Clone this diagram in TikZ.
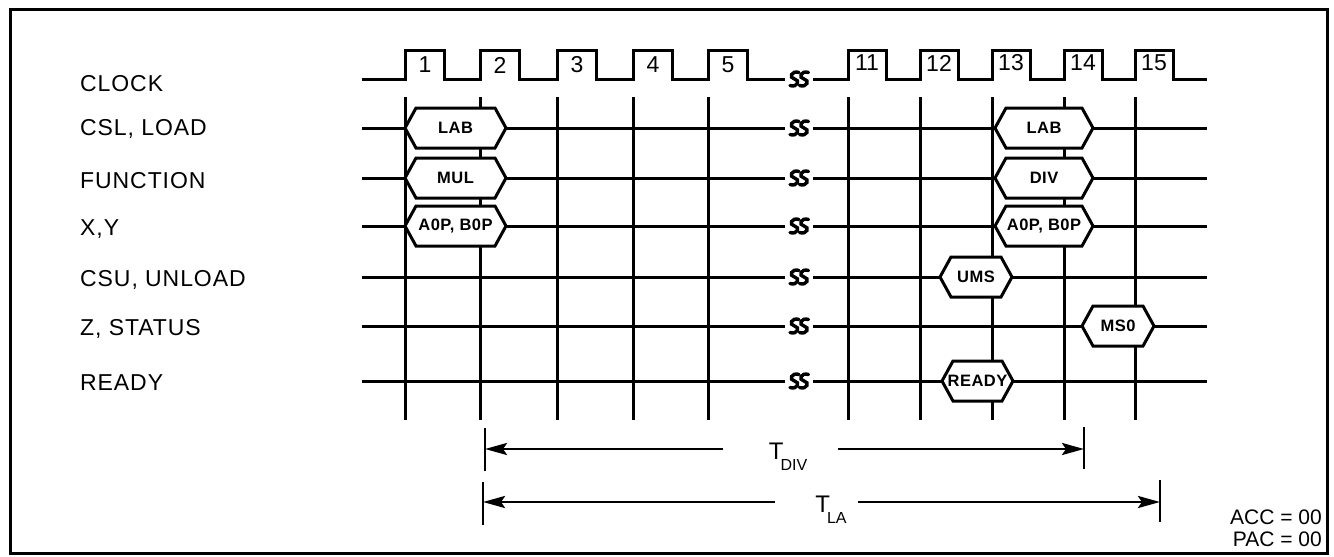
\documentclass[tikz,border=0pt]{standalone}
\usepackage{fontspec}
\setmainfont{Liberation Sans}
\usetikzlibrary{arrows.meta}
\newcommand\hexsig[5]{%
  \filldraw[hexline] (#2,#4) -- ({#2+11},{#4-20}) -- ({#3-11},{#4-20}) -- (#3,#4)
     -- ({#3-11},{#4+20}) -- ({#2+11},{#4+20}) -- cycle;
  \node[hextext] (#1) at ({(#2+#3)/2},#4) {#5};}
\newcommand\brkmark[2]{%
  \foreach \bx in {-4.5,5} {
    \draw[brk] ({#1+\bx+4.5},{#2-6.5}) .. controls ({#1+\bx-3},{#2-9}) and ({#1+\bx-6},{#2-1}) .. ({#1+\bx},{#2})
      .. controls ({#1+\bx+6},{#2+1}) and ({#1+\bx+3},{#2+9}) .. ({#1+\bx-4.5},{#2+6.5});
  }}
\begin{document}
\begin{tikzpicture}[x=1pt,y=-1pt,
  sig/.style={line width=3pt},
  hexline/.style={line width=3pt, fill=white, line join=miter},
  lbl/.style={anchor=west, font=\fontsize{23}{23}\selectfont\addfontfeature{LetterSpace=4}, inner sep=0pt},
  num/.style={font=\fontsize{23}{23}\selectfont, inner sep=0pt},
  hextext/.style={font=\fontsize{16.5}{16.5}\selectfont\bfseries\addfontfeature{LetterSpace=3}, inner sep=0pt},
  brk/.style={line width=3.4pt, line cap=round},
  dimtick/.style={line width=2.8pt},
  arr/.style={line width=2.8pt, -{Stealth[length=22pt,width=12pt,inset=4pt]}},
]
\useasboundingbox (0,0) rectangle (1334,557);
% frame
\draw[line width=3pt] (10,9) rectangle (1327,553);

% signal names
\node[lbl] (lclk) at (80,84) {CLOCK};
\node[lbl] (lcsl) at (80,129) {CSL, LOAD};
\node[lbl] (lfun) at (80,181) {FUNCTION};
\node[lbl] (lxy)  at (80,229) {X,Y};
\node[lbl] (lcsu) at (80,280) {CSU, UNLOAD};
\node[lbl] (lz)   at (80,329) {Z, STATUS};
\node[lbl] (lrdy) at (80,383) {READY};

% vertical clock-edge lines
\foreach \x in {405,480,557,633,708,848,920,992,1064,1135}
  \draw[sig] (\x,97) -- (\x,420);

% signal rows
\foreach \y in {128,178,226,277,326,381} {
  \draw[sig] (362,\y) -- (785,\y);
  \draw[sig] (813,\y) -- (1207,\y);
  \brkmark{799}{\y}
}

% clock
\draw[sig] (362,79)
  \foreach \x in {405,480,557,633,708} { -- (\x,79) -- (\x,50) -- ({\x+39},50) -- ({\x+39},79) }
  -- (785,79);
\draw[sig] (813,79)
  \foreach \x in {848,920,992,1064,1135} { -- (\x,79) -- (\x,50) -- ({\x+38},50) -- ({\x+38},79) }
  -- (1207,79);
\brkmark{799}{79}

\node[num] (c1) at (425,65) {1};
\node[num] (c2) at (500,65) {2};
\node[num] (c3) at (577,65) {3};
\node[num] (c4) at (653,65) {4};
\node[num] (c5) at (728,65) {5};
\node[num] (c11) at (867,63) {11};
\node[num] (c12) at (939,63) {12};
\node[num] (c13) at (1011,63) {13};
\node[num] (c14) at (1083,63) {14};
\node[num] (c15) at (1154,63) {15};

% data windows
\hexsig{lab1}{405}{506}{128}{LAB}
\hexsig{mul}{405}{506}{178}{MUL}
\hexsig{op1}{405}{506}{226}{A0P, B0P}
\hexsig{lab2}{995}{1093}{128}{LAB}
\hexsig{div}{995}{1093}{178}{DIV}
\hexsig{op2}{995}{1093}{226}{A0P, B0P}
\hexsig{ums}{940}{1012}{277}{UMS}
\hexsig{ms0}{1082}{1154}{326}{MS0}
\hexsig{rdy}{942}{1013}{381}{READY}

% timing dimensions
\coordinate (divL) at (485,449);
\coordinate (divR) at (1084,449);
\coordinate (divLa) at (723,449);
\coordinate (divRa) at (838,449);
\coordinate (laL) at (483,502);
\coordinate (laR) at (1160,502);
\coordinate (laLa) at (775,502);
\coordinate (laRa) at (858,502);
\draw[dimtick] (485,428) -- (485,471);
\draw[dimtick] (1084,427) -- (1084,469);
\draw[dimtick] (483,482) -- (483,525);
\draw[dimtick] (1160,480) -- (1160,522);
\draw[arr] (divLa) -- (divL);
\draw[arr] (divRa) -- (divR);
\draw[arr] (laLa) -- (laL);
\draw[arr] (laRa) -- (laR);
\node[inner sep=0pt] (tdiv) at (788,457)
  {\fontsize{24}{24}\selectfont T\kern-3pt\raisebox{-11pt}{\fontsize{16}{16}\selectfont DIV}};
\node[inner sep=0pt] (tla) at (831,510)
  {\fontsize{24}{24}\selectfont T\kern-3pt\raisebox{-11pt}{\fontsize{16}{16}\selectfont LA}};

% register settings
\node[anchor=east, align=right, inner sep=0pt, font=\fontsize{21}{22}\selectfont] (acc) at (1322,528)
  {ACC = 00\\PAC = 00};
\end{tikzpicture}
\end{document}
